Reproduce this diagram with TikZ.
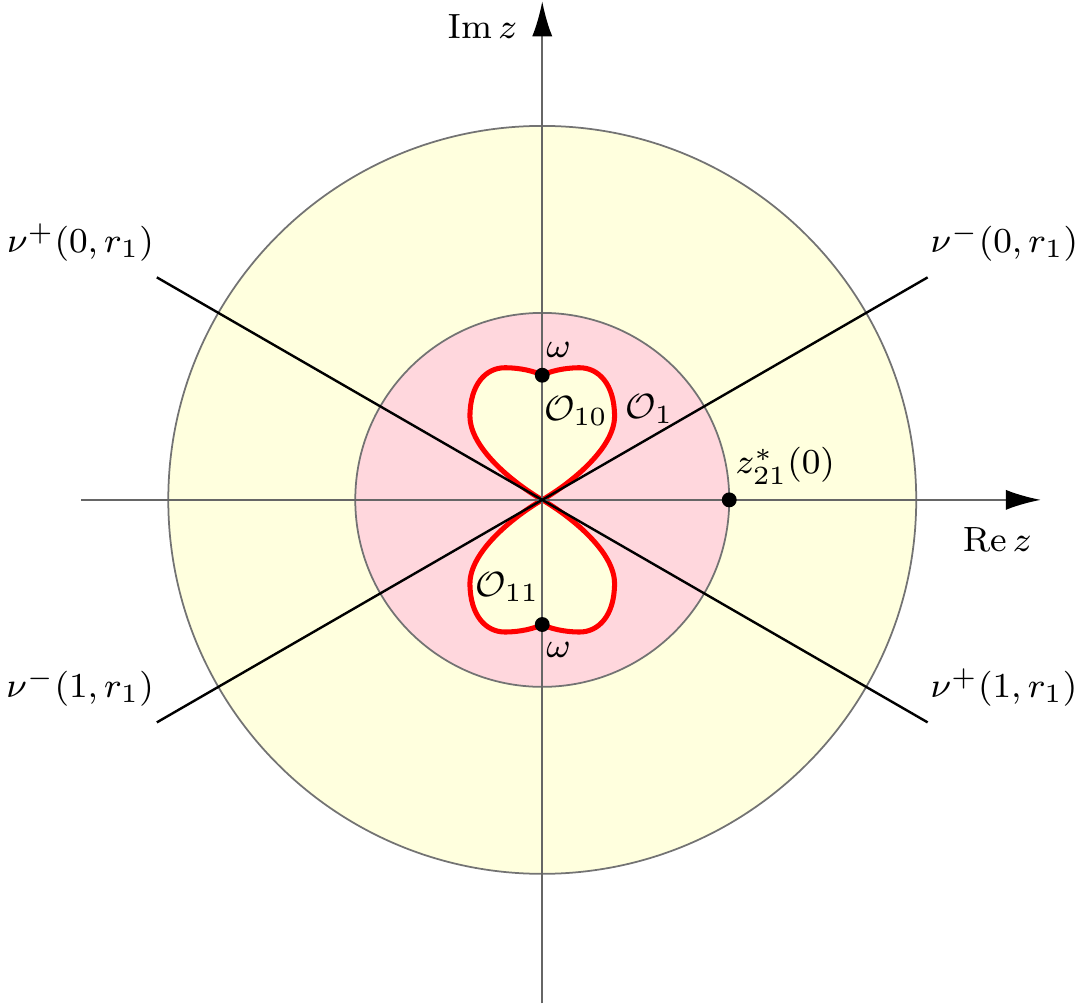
\documentclass[tikz,border=0pt]{standalone}
\usepackage{amsmath}
\usetikzlibrary{arrows.meta,positioning}
\definecolor{annulusyellow}{RGB}{255,255,222}
\definecolor{discpink}{RGB}{255,215,221}
\tikzset{%
every node/.append style={font=\fontsize{8.5}{10}\selectfont},
axis line/.style={draw=black!60, line width=0.5pt,
    -{Latex[length=8pt,width=4.6pt,black]}},
ray line/.style={draw=black, line width=0.55pt},
ray label/.style={inner sep=0.5pt},
disc/.style={draw=black!55, line width=0.4pt},
lobe line/.style={draw=red, line width=1.15pt, fill=annulusyellow},
dot/.style={circle, fill=black, inner sep=0pt, minimum size=3.4pt},
lobe/.pic={
  \path[lobe line] (0,0) .. controls (0.24,0.14) and (0.58,0.42) .. (0.58,0.67)
     .. controls (0.58,0.93) and (0.45,1.06) .. (0.30,1.06)
     .. controls (0.17,1.06) and (0.06,1.03) .. (0,1.0)
     .. controls (-0.06,1.03) and (-0.17,1.06) .. (-0.30,1.06)
     .. controls (-0.45,1.06) and (-0.58,0.93) .. (-0.58,0.67)
     .. controls (-0.58,0.42) and (-0.24,0.14) .. (0,0) -- cycle;
}
}

\begin{document}
\begin{tikzpicture}
\useasboundingbox (-4.35,-4.04) rectangle (4.37,4.01);

% discs
\fill[annulusyellow, disc] (0,0) circle (3);
\fill[discpink, disc] (0,0) circle (1.5);

% the two loops
\pic at (0,0) {lobe};
\pic[yscale=-1] at (0,0) {lobe};

% axes
\coordinate (xstart) at (-3.7,0);
\coordinate (xend) at (4.0,0);
\coordinate (ystart) at (0,-4.04);
\coordinate (yend) at (0,4.0);
\draw[axis line] (xstart) -- (xend);
\draw[axis line] (ystart) -- (yend);

% rays
\coordinate (nu0p) at (150:3.57);
\coordinate (nu1p) at (-30:3.57);
\coordinate (nu0m) at (30:3.57);
\coordinate (nu1m) at (210:3.57);
\draw[ray line] (nu0p) -- (nu1p);
\draw[ray line] (nu1m) -- (nu0m);

\node[ray label, above left=3pt and 0pt of nu0p] (lnu0p) {$\nu^+(0,r_1)$};
\node[ray label, above left=3pt and 0pt of nu1m] (lnu1m) {$\nu^-(1,r_1)$};
\node[ray label, above right=3pt and 0pt of nu0m] (lnu0m) {$\nu^-(0,r_1)$};
\node[ray label, above right=3pt and 0pt of nu1p] (lnu1p) {$\nu^+(1,r_1)$};

% points
\node[dot] (omtop) at (0,1.0) {};
\node[dot] (ombot) at (0,-1.0) {};
\node[dot] (zstar) at (1.5,0) {};

\node (lomtop) at (0.13,1.2) {$\omega$};
\node (lombot) at (0.13,-1.2) {$\omega$};
\node (lzstar) at (1.95,0.27) {$z_{21}^*(0)$};

\node (lO10) at (0.27,0.71) {$\mathcal{O}_{10}$};
\node (lO1) at (0.86,0.73) {$\mathcal{O}_{1}$};
\node (lO11) at (-0.28,-0.70) {$\mathcal{O}_{11}$};

\node (lre) at (3.65,-0.32) {$\mathrm{Re}\,z$};
\node (lim) at (-0.48,3.80) {$\mathrm{Im}\,z$};
\end{tikzpicture}
\end{document}
